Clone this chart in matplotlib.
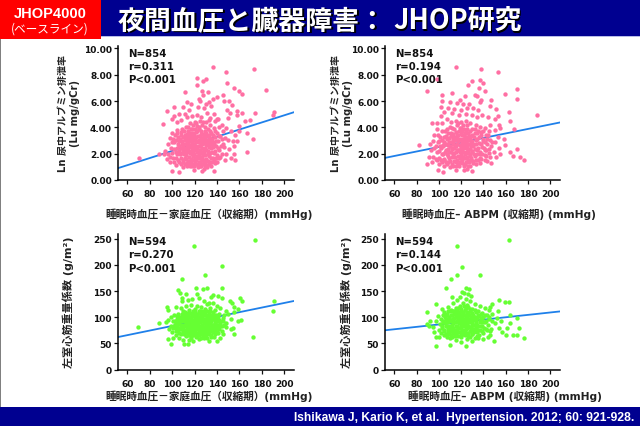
import numpy as np
import matplotlib
matplotlib.use("Agg")
import matplotlib.pyplot as plt
from matplotlib.patches import Rectangle

FONTS = ["DejaVu Sans", "Noto Sans CJK JP"]
plt.rcParams["font.family"] = FONTS

PINK = "#FF6FA3"
GREEN = "#66FF33"
LINE = "#1F80EA"
NAVY = "#000090"

xticks = [60, 80, 100, 120, 140, 160, 180, 200]
uae_ticks = [0, 2, 4, 6, 8, 10]
uae_labels = ["0.00", "2.00", "4.00", "6.00", "8.00", "10.00"]
lvmi_ticks = [0, 50, 100, 150, 200, 250]

xlab_home = "睡眠時血圧－家庭血圧（収縮期）(mmHg)"
xlab_abpm = "睡眠時血圧– ABPM (収縮期) (mmHg)"
ylab_uae = "Ln 尿中アルブミン排泄率\n(Lu mg/gCr)"
ylab_lvmi = "左室心筋重量係数 (g/m²)"

stats = [("N=854", "r=0.311", "P<0.001"), ("N=854", "r=0.194", "P<0.001"),
         ("N=594", "r=0.270", "P<0.001"), ("N=594", "r=0.144", "P<0.001")]

# regression line end values at the axis limits
fit_x = [51.7, 208.6]
fit_uae_home = [0.9, 5.15]
fit_uae_abpm = [1.68, 4.37]
fit_lvmi_home = [62, 131]
fit_lvmi_abpm = [75, 111]

uae_home = [
    (136.7, 8.58), (148, 8.23), (173, 8.4), (183.4, 6.86), (121.8, 7.75), (121.8, 7.2), (127.8, 7.55), (130, 7.65),
    (148.6, 7.37), (155.5, 7.0), (159.3, 6.76), (162.3, 6.56), (111.4, 6.68), (126.6, 6.76), (132, 6.7), (127.8, 6.45),
    (124, 6.15), (125, 6.02), (139.7, 6.33), (145, 6.45), (136, 6.15), (146, 6.0), (151, 6.0), (153, 5.7), (148.6, 5.34),
    (157.5, 5.27), (162, 5.06), (151.6, 5.06), (174, 5.09), (191, 5.2), (190, 4.9), (169.4, 4.58), (165, 4.46), (158, 4.9),
    (149.5, 4.73), (160, 4.08), (95, 5.27), (101.6, 5.57), (92, 4.25), (70.4, 1.7), (88.5, 1.95), (166.7, 3.57),
    (172.4, 3.09), (166.7, 2.15), (156, 1.52), (155.5, 1.97), (99.5, 0.71), (106.4, 0.58), (137, 0.71), (119.8, 0.76),
    (127, 0.71), (128, 0.85), (93, 2.0), (133, 5.95), (130, 5.8), (135, 5.65), (128, 5.5), (123, 5.55), (117, 5.8),
    (113, 5.9), (110, 5.55), (115, 5.3), (111, 5.05), (106, 5.0), (102, 4.85), (100, 4.6), (104, 4.4), (108, 4.55),
    (113, 4.75), (118, 4.85), (122, 4.95), (126, 4.8), (131, 5.1), (137, 5.05), (134, 4.7), (140, 4.6), (144, 4.2),
    (148, 3.95), (152, 3.7), (156, 3.4), (160, 3.75), (150, 3.05), (154, 2.95), (158, 3.0), (146, 2.5), (151, 2.35),
    (155, 2.6), (148, 1.95), (152, 1.7), (143, 1.75), (147, 1.55), (140, 1.35), (135, 1.1), (131, 1.0), (123, 0.95),
    (116, 1.05), (110, 0.95), (103, 1.15), (98, 1.4), (95, 1.6), (94, 2.2), (96, 2.75), (98, 3.2), (100, 3.55), (104, 3.8),
    (96, 2.0), (99, 2.4), (101, 1.7), (102, 2.85), (103, 2.15), (105, 1.5), (105, 3.3), (106, 2.6), (107, 1.95), (108, 3.65),
    (108, 1.25), (109, 2.95), (110, 2.3), (111, 1.65), (111, 3.45), (112, 4.05), (112, 2.75), (113, 1.3), (113, 2.1),
    (114, 3.15), (114, 3.7), (115, 1.75), (115, 2.5), (116, 4.3), (116, 2.95), (117, 1.45), (117, 2.2), (117, 3.45),
    (118, 3.9), (118, 1.05), (118, 2.7), (119, 1.85), (119, 3.2), (120, 2.35), (120, 4.4), (120, 1.3), (121, 3.65),
    (121, 2.9), (122, 1.65), (122, 2.1), (122, 4.1), (123, 3.35), (123, 1.15), (123, 2.6), (124, 3.85), (124, 1.9),
    (125, 2.95), (125, 1.4), (125, 4.5), (125, 2.3), (126, 3.5), (126, 1.05), (127, 1.75), (127, 2.7), (127, 4.15),
    (128, 3.15), (128, 2.05), (128, 1.3), (129, 3.75), (129, 2.45), (130, 1.6), (130, 4.4), (130, 2.9), (131, 3.35),
    (131, 1.15), (132, 2.2), (132, 3.9), (133, 1.85), (133, 2.65), (134, 3.2), (134, 1.4), (134, 4.2), (135, 2.4),
    (135, 3.6), (136, 1.7), (136, 2.9), (137, 2.05), (137, 3.95), (138, 3.3), (138, 1.3), (139, 2.55), (140, 1.9),
    (140, 3.55), (141, 2.95), (142, 2.3), (142, 4.05), (143, 3.35), (144, 1.95), (145, 2.75), (145, 3.7), (147, 3.2),
    (107, 3.1), (109, 3.9), (110, 1.35), (112, 2.4), (115, 3.35), (116, 1.25), (119, 2.5), (121, 1.5), (124, 3.05),
    (126, 2.05), (129, 1.1), (132, 3.05), (133, 4.55), (138, 4.45), (141, 4.6), (104, 2.45), (100, 2.05), (101, 3.1),
]
uae_home_core = [
    (98.5, 1.75), (99.5, 2.85), (101.5, 1.35), (101.5, 2.35), (103.5, 1.7), (103.5, 3.05), (104.5, 1.95), (104.5, 3.55),
    (106.5, 1.35), (106.5, 2.2), (106.5, 2.95), (107.5, 1.65), (107.5, 2.45), (107.5, 3.45), (108.5, 2.05), (108.5, 2.7),
    (109.5, 1.55), (109.5, 2.5), (109.5, 3.3), (110.5, 1.95), (110.5, 2.75), (110.5, 3.7), (111.5, 1.2), (111.5, 2.2),
    (111.5, 3.05), (112.5, 1.6), (112.5, 1.9), (112.5, 3.3), (113.5, 2.55), (113.5, 2.95), (113.5, 3.5), (113.5, 1.05),
    (114.5, 1.45), (114.5, 2.3), (114.5, 2.75), (114.5, 4.0), (115.5, 1.15), (115.5, 2.05), (115.5, 3.1), (115.5, 3.6),
    (116.5, 1.6), (116.5, 2.65), (116.5, 3.25), (116.5, 3.85), (117.5, 1.25), (117.5, 1.95), (117.5, 2.45), (117.5, 3.0),
    (118.5, 1.55), (118.5, 2.2), (118.5, 3.55), (118.5, 4.2), (119.5, 1.1), (119.5, 2.0), (119.5, 2.75), (119.5, 3.4),
    (120.5, 1.65), (120.5, 2.6), (120.5, 3.05), (120.5, 3.9), (121.5, 1.2), (121.5, 2.25), (121.5, 3.3), (121.5, 4.35),
    (122.5, 1.85), (122.5, 2.4), (122.5, 3.0), (122.5, 3.7), (123.5, 1.4), (123.5, 2.15), (123.5, 2.85), (123.5, 4.0),
    (124.5, 1.05), (124.5, 1.65), (124.5, 2.6), (124.5, 3.35), (125.5, 2.1), (125.5, 2.7), (125.5, 3.2), (125.5, 3.75),
    (126.5, 1.25), (126.5, 1.55), (126.5, 2.45), (126.5, 3.0), (127.5, 1.95), (127.5, 2.95), (127.5, 3.5), (127.5, 4.4),
    (128.5, 1.5), (128.5, 2.25), (128.5, 2.8), (128.5, 3.35), (129.5, 1.35), (129.5, 1.9), (129.5, 3.1), (129.5, 4.0),
    (130.5, 2.3), (130.5, 2.65), (130.5, 3.6), (131.5, 1.45), (131.5, 1.95), (131.5, 2.85), (132.5, 1.25), (132.5, 2.5),
    (132.5, 3.4), (133.5, 2.05), (133.5, 2.95), (133.5, 3.7), (134.5, 1.65), (134.5, 2.7), (135.5, 1.35), (135.5, 2.15),
    (135.5, 3.15), (136.5, 2.5), (136.5, 3.45), (137.5, 1.55), (137.5, 2.75), (138.5, 2.2), (138.5, 3.7), (139.5, 1.65),
    (139.5, 3.0), (140.5, 2.45), (141.5, 1.7), (141.5, 3.35), (143.5, 2.6), (144.5, 3.1), (105.5, 2.75), (102.5, 3.4),
]

uae_abpm = [
    (115.8, 8.56), (138, 8.4), (153, 8.23), (98.6, 7.7), (129.7, 7.54), (136.5, 7.6), (125.8, 7.2), (140, 7.37), (136, 6.96),
    (141.6, 6.73), (89.7, 6.73), (112, 6.63), (102.4, 6.48), (123, 6.4), (132.7, 6.48), (134, 6.35), (159, 6.53), (170, 6.89),
    (169.7, 6.15), (147, 6.05), (138, 6.07), (137, 5.95), (188, 4.91), (163, 5.14), (163.8, 4.48), (167, 3.87), (151.6, 5.39),
    (146, 5.6), (153.4, 4.86), (159, 2.68), (163.7, 2.13), (169.7, 2.35), (172.4, 1.72), (176, 1.54), (166.8, 1.85), (82, 2.66),
    (89.7, 1.24), (99.4, 0.78), (103.3, 0.63), (115.8, 0.78), (122.3, 0.78), (129.7, 0.71), (147, 1.29), (143, 1.47),
    (125, 0.82), (103, 6.0), (110, 5.95), (116, 5.85), (119, 6.1), (122, 5.75), (127, 5.8), (131, 5.5), (135, 5.35),
    (125, 5.45), (120, 5.3), (114, 5.4), (108, 5.5), (102, 5.55), (105, 5.15), (112, 5.1), (118, 4.95), (124, 5.0),
    (130, 4.9), (134, 4.75), (139, 4.95), (144, 4.75), (150, 4.6), (154, 4.2), (146, 4.15), (150, 3.8), (155, 3.95),
    (145, 3.7), (153, 3.3), (158, 3.1), (150, 2.9), (154, 2.45), (149, 2.1), (155, 1.95), (151, 1.75), (146, 1.75),
    (141, 1.9), (137, 1.3), (133, 1.2), (126, 1.05), (118, 1.1), (110, 0.95), (105, 1.05), (100, 1.25), (95, 1.75),
    (91, 1.75), (93, 2.3), (92, 2.75), (96, 3.4), (98, 3.85), (94, 4.35), (98, 4.35), (102, 4.85), (103, 4.3), (107, 4.65),
    (111, 4.4), (115, 4.5), (120, 4.4), (124, 4.45), (128, 4.3), (133, 4.2), (137, 4.05), (141, 3.95), (98, 2.1), (99, 2.9),
    (100, 1.7), (101, 3.3), (102, 2.4), (103, 1.35), (103, 3.7), (104, 2.0), (105, 2.9), (105, 1.55), (106, 3.35), (106, 2.3),
    (107, 3.9), (107, 1.2), (108, 2.65), (108, 1.8), (109, 3.2), (109, 2.1), (110, 4.0), (110, 1.45), (111, 2.85), (111, 3.55),
    (112, 1.75), (112, 2.35), (113, 3.15), (113, 1.05), (114, 3.85), (114, 2.05), (115, 2.6), (115, 1.4), (116, 3.4), (116, 4.15),
    (117, 1.8), (117, 2.95), (118, 2.25), (118, 3.7), (119, 1.35), (119, 3.1), (120, 2.6), (120, 1.9), (120, 3.95), (121, 3.4),
    (121, 1.55), (122, 2.15), (122, 2.85), (122, 4.2), (123, 3.6), (123, 1.2), (124, 2.45), (124, 3.15), (125, 1.75), (125, 3.9),
    (126, 2.05), (126, 2.75), (127, 3.35), (127, 1.35), (128, 2.35), (128, 3.75), (129, 1.65), (129, 2.95), (130, 2.1), (130, 3.45),
    (131, 1.3), (131, 2.6), (132, 3.9), (132, 1.85), (133, 3.05), (134, 2.3), (134, 3.55), (135, 1.55), (136, 2.8), (136, 3.25),
    (137, 2.0), (138, 3.65), (138, 1.6), (139, 2.5), (140, 3.1), (141, 1.55), (141, 2.25), (142, 3.45), (143, 2.75), (145, 2.35),
    (146, 3.05), (147, 2.6), (148, 2.9), (144, 3.4), (110, 2.55), (113, 2.75), (116, 2.3), (119, 2.1), (121, 2.7), (123, 2.0),
    (126, 3.05), (128, 1.95), (104, 2.65), (101, 2.6), (96, 2.45), (97, 1.6), (95, 3.0), (94, 1.4),
]
uae_abpm_core = [
    (97.5, 2.55), (98.5, 1.55), (99.5, 3.4), (100.5, 2.2), (100.5, 2.95), (101.5, 1.55), (102.5, 2.0), (102.5, 3.05), (103.5, 2.55),
    (104.5, 1.6), (104.5, 3.3), (105.5, 2.15), (105.5, 3.7), (106.5, 1.4), (106.5, 2.7), (107.5, 2.0), (107.5, 3.15), (108.5, 1.4),
    (108.5, 2.35), (108.5, 3.6), (109.5, 1.65), (109.5, 2.85), (110.5, 2.15), (110.5, 3.35), (111.5, 1.25), (111.5, 2.45),
    (111.5, 3.95), (112.5, 1.95), (112.5, 2.85), (112.5, 3.5), (113.5, 1.45), (113.5, 2.4), (113.5, 3.3), (114.5, 1.75), (114.5, 2.65),
    (114.5, 3.05), (115.5, 1.1), (115.5, 2.1), (115.5, 3.65), (116.5, 1.55), (116.5, 2.75), (116.5, 3.2), (117.5, 1.25), (117.5, 2.3),
    (117.5, 3.45), (117.5, 4.3), (118.5, 1.65), (118.5, 2.65), (118.5, 3.05), (118.5, 3.95), (119.5, 1.85), (119.5, 2.45), (119.5, 3.5),
    (120.5, 1.3), (120.5, 2.25), (120.5, 2.9), (120.5, 3.7), (121.5, 1.75), (121.5, 2.4), (121.5, 3.15), (122.5, 1.1), (122.5, 2.55),
    (122.5, 3.45), (122.5, 3.85), (123.5, 1.7), (123.5, 2.75), (123.5, 3.25), (124.5, 1.4), (124.5, 2.15), (124.5, 2.9), (124.5, 3.65),
    (125.5, 2.5), (125.5, 3.3), (125.5, 4.15), (126.5, 1.55), (126.5, 2.3), (126.5, 3.55), (127.5, 1.1), (127.5, 1.85), (127.5, 2.7),
    (127.5, 3.1), (128.5, 1.5), (128.5, 2.55), (128.5, 3.35), (129.5, 2.2), (129.5, 3.0), (129.5, 3.9), (130.5, 1.45), (130.5, 2.75),
    (131.5, 1.95), (131.5, 3.25), (132.5, 2.35), (132.5, 3.55), (133.5, 1.55), (133.5, 2.7), (134.5, 1.95), (134.5, 3.15), (135.5, 2.45),
    (135.5, 3.75), (136.5, 1.7), (136.5, 2.15), (137.5, 2.7), (137.5, 3.45), (138.5, 1.95), (139.5, 3.0), (139.5, 3.7), (140.5, 2.4),
    (141.5, 2.85), (142.5, 1.8), (142.5, 2.3), (143.5, 3.15), (144.5, 2.05),
]

lvmi_home = [
    (173.9, 247), (119.5, 236.6), (144.7, 197.7), (129, 180.5), (108.5, 172.9), (144, 156), (121, 156), (130.8, 155.6), (127.8, 153.7),
    (105.5, 152), (107, 146.7), (112.3, 144), (121.8, 144), (136.7, 142), (141, 139.7), (135, 137.8), (144, 136), (160.5, 136.5),
    (162.3, 131), (151.6, 130), (153, 128), (108.8, 136.5), (109, 130), (95, 120), (96.6, 113.5), (103, 118.7), (190.5, 131), (189.6, 112),
    (171.8, 63), (155.5, 68), (154.6, 80), (152, 78), (147.7, 82), (152, 96), (159, 93), (161, 94), (158.8, 115.4), (155.5, 118.7),
    (69.8, 81.6), (88, 88.7), (94.2, 90.6), (99, 49), (110.8, 47.8), (114.4, 47.8), (96, 58), (101, 61), (142.7, 60), (140.3, 53.6),
    (114, 132), (118, 134), (124, 136), (128, 130), (133, 127), (117, 124), (122, 122), (126, 120), (131, 125), (136, 128),
    (140, 122), (143, 118), (148, 112), (150, 106), (146, 104), (155, 110), (108, 118), (112, 121), (105, 107), (110, 112),
    (115, 113), (120, 116), (125, 112), (129, 116), (134, 117), (138, 113), (142, 107), (99, 100), (102, 104), (96, 95),
    (97, 78), (99, 84), (100, 72), (103, 66), (106, 60), (110, 56), (115, 56), (119, 55), (124, 58), (128, 60), (133, 55),
    (137, 62), (141, 70), (145, 68), (148, 88), (145, 92), (101, 92), (103, 80), (104, 96), (105, 74), (106, 87), (107, 101),
    (108, 68), (108, 81), (109, 92), (110, 76), (111, 104), (111, 86), (112, 64), (112, 97), (113, 72), (113, 82), (114, 108),
    (114, 91), (115, 66), (115, 78), (116, 100), (116, 86), (117, 60), (117, 72), (117, 94), (118, 106), (118, 81), (119, 66),
    (119, 90), (120, 76), (120, 99), (120, 110), (121, 84), (121, 62), (122, 70), (122, 94), (122, 104), (123, 79), (123, 88),
    (124, 65), (124, 98), (124, 108), (125, 74), (125, 84), (126, 92), (126, 60), (126, 103), (127, 69), (127, 80), (127, 112),
    (128, 88), (128, 97), (129, 64), (129, 76), (129, 106), (130, 84), (130, 92), (130, 71), (131, 100), (131, 60), (131, 112),
    (132, 78), (132, 88), (133, 67), (133, 96), (133, 106), (134, 82), (134, 73), (135, 92), (135, 101), (135, 63), (136, 85),
    (136, 110), (137, 76), (137, 96), (138, 68), (138, 88), (139, 104), (139, 80), (140, 93), (140, 72), (141, 86), (141, 100),
    (142, 78), (143, 92), (143, 84), (144, 73), (145, 99), (146, 86), (109, 100), (113, 92), (118, 88), (123, 94), (128, 78),
    (103, 88), (106, 94), (125, 90), (121, 92), (116, 92), (112, 88),
]
lvmi_home_core = [
    (101.5, 84), (102.5, 92), (103.5, 74), (104.5, 84), (105.5, 96), (105.5, 80), (106.5, 70), (106.5, 90), (107.5, 78), (107.5, 94),
    (108.5, 86), (108.5, 106), (109.5, 72), (109.5, 82), (110.5, 92), (110.5, 68), (110.5, 98), (111.5, 76), (111.5, 110), (112.5, 84),
    (112.5, 72), (112.5, 102), (113.5, 66), (113.5, 88), (113.5, 96), (114.5, 76), (114.5, 84), (114.5, 102), (115.5, 70), (115.5, 92),
    (115.5, 108), (116.5, 80), (116.5, 64), (116.5, 96), (117.5, 86), (117.5, 102), (117.5, 76), (118.5, 68), (118.5, 94), (118.5, 112),
    (119.5, 82), (119.5, 74), (119.5, 104), (120.5, 88), (120.5, 68), (120.5, 94), (121.5, 78), (121.5, 98), (121.5, 106), (122.5, 84),
    (122.5, 64), (122.5, 90), (123.5, 74), (123.5, 100), (123.5, 112), (124.5, 82), (124.5, 92), (124.5, 68), (125.5, 78), (125.5, 96),
    (125.5, 106), (126.5, 86), (126.5, 72), (126.5, 98), (127.5, 92), (127.5, 64), (127.5, 104), (128.5, 82), (128.5, 70), (128.5, 110),
    (129.5, 88), (129.5, 96), (130.5, 78), (130.5, 66), (130.5, 104), (131.5, 86), (131.5, 94), (131.5, 72), (132.5, 100), (132.5, 82),
    (133.5, 88), (133.5, 76), (133.5, 112), (134.5, 94), (134.5, 66), (134.5, 104), (135.5, 80), (135.5, 86), (136.5, 72), (136.5, 98),
    (137.5, 84), (137.5, 104), (138.5, 92), (138.5, 76), (139.5, 86), (139.5, 98), (140.5, 80), (141.5, 94), (142.5, 88), (144.5, 84),
    (100.5, 80), (102.5, 86), (104.5, 102), (118.5, 84), (122.5, 98), (126.5, 80),
]

lvmi_abpm = [
    (162.6, 247), (116.3, 236.8), (120.5, 196.6), (116.6, 180), (137, 180.6), (111, 172.3), (106.6, 155.7), (124.7, 155.7), (127.3, 153),
    (121, 149), (122.5, 147), (126, 144), (129, 141), (112.2, 139), (97, 125), (89.7, 109), (154, 132.7), (159.3, 129), (163.2, 129),
    (147.5, 126), (146, 118.7), (153.4, 111), (163.8, 105), (169.7, 98), (171.8, 79), (163.8, 88), (161, 79), (166.8, 65), (169.7, 65.7),
    (176, 60), (160, 65), (149, 55), (97.7, 44.7), (110, 46), (124.7, 44.7), (89.7, 86.8), (92, 93), (91, 84), (119, 138), (124, 134),
    (116, 132), (113, 128), (122, 128), (128, 130), (132, 125), (137, 122), (141, 118), (145, 113), (108, 120), (103, 116), (105, 110),
    (111, 113), (117, 118), (126, 120), (130, 115), (135, 112), (139, 108), (148, 106), (152, 99), (156, 92), (150, 88), (154, 80),
    (157, 72), (147, 78), (146, 66), (144, 62), (140, 58), (135, 60), (130, 55), (125, 58), (120, 52), (115, 56), (110, 60), (105, 65),
    (100, 62), (97, 62), (96, 72), (95, 82), (97, 93), (99, 102), (100, 76), (101, 87), (102, 97), (102, 69), (103, 80), (104, 104),
    (104, 90), (105, 74), (106, 96), (106, 84), (107, 62), (107, 107), (108, 78), (108, 90), (109, 68), (109, 100), (110, 84), (110, 112),
    (111, 74), (111, 94), (112, 62), (112, 104), (113, 80), (113, 88), (114, 70), (114, 98), (114, 112), (115, 84), (115, 76), (116, 92),
    (116, 106), (117, 64), (117, 80), (117, 98), (118, 88), (118, 110), (119, 72), (119, 94), (119, 104), (120, 82), (120, 62), (120, 116),
    (121, 90), (121, 100), (122, 74), (122, 108), (123, 84), (123, 94), (123, 66), (124, 102), (124, 78), (124, 118), (125, 88), (125, 110),
    (126, 70), (126, 96), (127, 82), (127, 104), (128, 62), (128, 90), (128, 112), (129, 76), (129, 98), (130, 86), (130, 68), (131, 104),
    (131, 94), (132, 78), (132, 60), (133, 88), (133, 110), (134, 72), (134, 98), (135, 84), (136, 102), (136, 66), (137, 90), (137, 76),
    (138, 96), (139, 84), (140, 70), (140, 100), (141, 90), (142, 78), (143, 104), (144, 86), (145, 96), (146, 74), (148, 92), (116, 100),
    (121, 96), (126, 90), (118, 94), (113, 96), (110, 92),
]
lvmi_abpm_core = [
    (102.5, 84), (103.5, 92), (104.5, 76), (105.5, 100), (105.5, 88), (106.5, 68), (106.5, 104), (107.5, 84), (107.5, 92), (108.5, 72),
    (108.5, 112), (109.5, 80), (109.5, 96), (110.5, 66), (110.5, 104), (111.5, 86), (111.5, 78), (112.5, 96), (112.5, 70), (112.5, 112),
    (113.5, 106), (113.5, 76), (114.5, 90), (114.5, 64), (115.5, 100), (115.5, 118), (115.5, 68), (116.5, 84), (116.5, 74), (116.5, 112),
    (117.5, 92), (117.5, 106), (117.5, 72), (118.5, 80), (118.5, 100), (118.5, 122), (119.5, 86), (119.5, 66), (119.5, 112), (120.5, 76),
    (120.5, 94), (120.5, 104), (121.5, 84), (121.5, 68), (121.5, 110), (122.5, 96), (122.5, 88), (122.5, 122), (123.5, 76), (123.5, 104),
    (123.5, 114), (124.5, 90), (124.5, 70), (124.5, 96), (125.5, 80), (125.5, 102), (125.5, 124), (126.5, 84), (126.5, 108), (126.5, 64),
    (127.5, 92), (127.5, 74), (127.5, 116), (128.5, 100), (128.5, 82), (129.5, 90), (129.5, 68), (129.5, 108), (130.5, 78), (130.5, 98),
    (131.5, 86), (131.5, 72), (132.5, 100), (132.5, 114), (133.5, 80), (133.5, 94), (134.5, 64), (134.5, 86), (135.5, 104), (135.5, 76),
    (136.5, 92), (137.5, 84), (137.5, 106), (138.5, 74), (138.5, 98), (139.5, 90), (140.5, 80), (141.5, 104), (142.5, 92), (143.5, 76),
    (144.5, 100),
]


def panel(left, top, right, bottom, pts, fit_y, color, ylim, yticks, ylabels, xlab, ylab, stat,
          xlab_x, xlab_y, ylab_x, ylab_size):
    ax = fig.add_axes([left / 640, 1 - bottom / 427, (right - left) / 640, (bottom - top) / 427])
    pts = np.array(pts)
    ax.plot(fit_x, fit_y, color=LINE, lw=1.3, zorder=1)
    ax.scatter(pts[:, 0], pts[:, 1], s=10, color=color, lw=0, zorder=2)
    ax.set_xlim(51.7, 208.6)
    ax.set_ylim(*ylim)
    ax.set_xticks(xticks)
    ax.set_yticks(yticks)
    ax.set_yticklabels(ylabels)
    ax.tick_params(labelsize=6.5, length=2.6, width=0.9, colors="#111111")
    ax.tick_params(axis="x", pad=4.2)
    ax.tick_params(axis="y", pad=1.8)
    for lab in ax.get_xticklabels() + ax.get_yticklabels():
        lab.set_fontweight("bold")
    ax.spines["top"].set_visible(False)
    ax.spines["right"].set_visible(False)
    ax.spines["left"].set_linewidth(1.1)
    ax.spines["bottom"].set_linewidth(1.1)
    ax.patch.set_alpha(0)
    for i, s in enumerate(stat):
        bg.text(left + 10.5, top + 7 + i * 13.3, s, fontsize=7.3, fontweight="bold",
                va="center", ha="left", color="#111111", zorder=5)
    bg.text(xlab_x, xlab_y, xlab, fontsize=7.7, fontweight="bold", ha="center", va="center", color="#222222")
    bg.text(ylab_x, (top + bottom) / 2 - 0.5, ylab, fontsize=ylab_size, fontweight="bold", rotation=90,
            ha="center", va="center", color="#222222", linespacing=1.3, multialignment="center")


fig = plt.figure(figsize=(6.4, 4.27), dpi=100)
bg = fig.add_axes([0, 0, 1, 1], zorder=3)
bg.set_xlim(0, 640)
bg.set_ylim(427, 0)
bg.axis("off")
bg.patch.set_alpha(0)

bg.add_patch(Rectangle((0, 0), 640, 37, color=NAVY, lw=0))
bg.add_patch(Rectangle((0, 37), 640, 1, color="#B8BCE8", lw=0))
bg.add_patch(Rectangle((0, 0), 100.5, 40, color="#FF0000", lw=0))
bg.add_patch(Rectangle((0, 40), 1, 387, color="#808080", lw=0))
bg.add_patch(Rectangle((0, 408), 640, 19, color=NAVY, lw=0))

bg.text(50, 14, "JHOP4000", color="white", fontsize=10.5, ha="center", va="center", family=["Liberation Sans"], fontweight="bold")
bg.text(50, 29, "(ベースライン)", color="white", fontsize=8.4, ha="center", va="center", family=["Noto Sans CJK JP"])

title_left = "夜間血圧と臓器障害："
title_right = "JHOP研究"
for dx, col in [(1.5, "black"), (0, "white")]:
    bg.text(118 + dx, 21 + dx, title_left, color=col, fontsize=19.4, fontweight="bold", ha="left", va="center", family=["Noto Sans CJK JP"])
    bg.text(393 + dx, 21 + dx, title_right, color=col, fontsize=19.4, fontweight="bold", ha="left", va="center", family=["Noto Sans CJK JP"])
bg.text(634, 418, "Ishikawa J, Kario K, et al.  Hypertension. 2012; 60: 921-928.", color="white", fontsize=8.7,
        fontweight="bold", ha="right", va="center", family=["Liberation Sans"])

panel(118, 46.7, 294, 181, uae_home + uae_home_core, fit_uae_home, PINK, (0, 10.2), uae_ticks, uae_labels,
      xlab_home, ylab_uae, stats[0], 209, 214.5, 69, 7.2)
panel(385, 46.7, 560, 181, uae_abpm + uae_abpm_core, fit_uae_abpm, PINK, (0, 10.2), uae_ticks, uae_labels,
      xlab_abpm, ylab_uae, stats[1], 499, 214.5, 342, 7.2)
panel(118, 235, 294, 370.5, lvmi_home + lvmi_home_core, fit_lvmi_home, GREEN, (0, 259), lvmi_ticks, [str(t) for t in lvmi_ticks],
      xlab_home, ylab_lvmi, stats[2], 209, 396.5, 68, 8)
panel(385, 235, 560, 370.5, lvmi_abpm + lvmi_abpm_core, fit_lvmi_abpm, GREEN, (0, 259), lvmi_ticks, [str(t) for t in lvmi_ticks],
      xlab_abpm, ylab_lvmi, stats[3], 505, 396.5, 346.5, 8)

fig.savefig("out.png", dpi=100, facecolor="white")
